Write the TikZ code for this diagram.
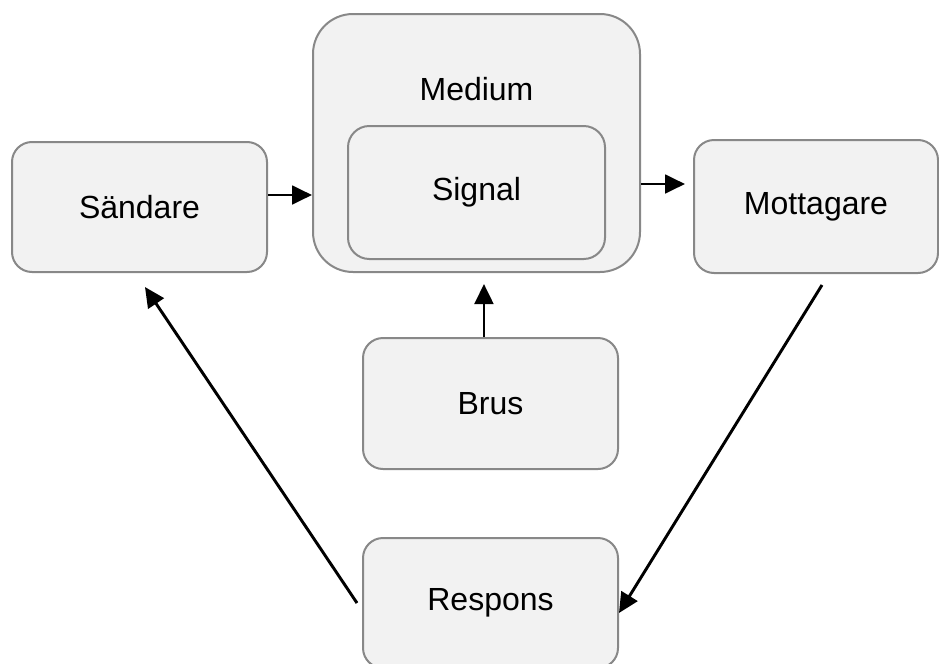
\documentclass[tikz,border=0pt]{standalone}
\usepackage{fontspec}
\setmainfont{Liberation Sans}
\usetikzlibrary{arrows.meta}
\definecolor{boxfill}{HTML}{F2F2F2}
\definecolor{boxline}{HTML}{888888}
\begin{document}
\begin{tikzpicture}[x=0.75pt,y=-0.75pt,
  box/.style={draw=boxline, fill=boxfill, line width=1.5pt, rounded corners=15pt,
    inner sep=0pt, font=\fontsize{24pt}{28pt}\selectfont},
  lbl/.style={inner sep=0pt, font=\fontsize{24pt}{28pt}\selectfont},
  flow/.style={-{Triangle[length=15pt,width=14pt]}, line width=2.2pt}]
\useasboundingbox (0,0) rectangle (939,664);

% boxes
\node[box, minimum width=255*0.75pt, minimum height=130*0.75pt] (sender) at (139.5,207) {Sändare};
\node[box, rounded corners=30pt, minimum width=327*0.75pt, minimum height=258*0.75pt] (medium) at (476.5,143) {};
\node[lbl] (mediumlabel) at (476.5,89) {Medium};
\node[box, rounded corners=16pt, minimum width=257*0.75pt, minimum height=133*0.75pt] (signal) at (476.5,192.5) {Signal};
\node[box, minimum width=244*0.75pt, minimum height=133*0.75pt] (receiver) at (816,206.5) {Mottagare};
\node[box, minimum width=255*0.75pt, minimum height=131*0.75pt] (noise) at (490.5,403.5) {Brus};
\node[box, minimum width=255*0.75pt, minimum height=130*0.75pt] (response) at (490.5,603) {Respons};

% connector end points
\coordinate (s1) at ([yshift=9pt]sender.east);
\coordinate (m1) at ([yshift=-30.75pt]medium.east);
\coordinate (n1) at ([xshift=-4.9pt]noise.north);
\coordinate (r1) at ([xshift=4.5pt,yshift=-8.25pt]receiver.south);
\coordinate (p1) at ([yshift=-7.5pt]response.east);
\coordinate (p2) at ([xshift=-3.75pt]response.west);
\coordinate (s2) at ([xshift=4.1pt,yshift=-10.5pt]sender.south);

% connectors
\draw[flow] (s1) -- (s1 -| medium.west);
\draw[flow] (m1) -- ([xshift=-6pt]m1 -| receiver.west);
\draw[flow] (n1) -- ([yshift=-8.25pt]n1 |- medium.south);
\draw[flow] (r1) -- (p1);
\draw[flow] (p2) -- (s2);
\end{tikzpicture}
\end{document}
